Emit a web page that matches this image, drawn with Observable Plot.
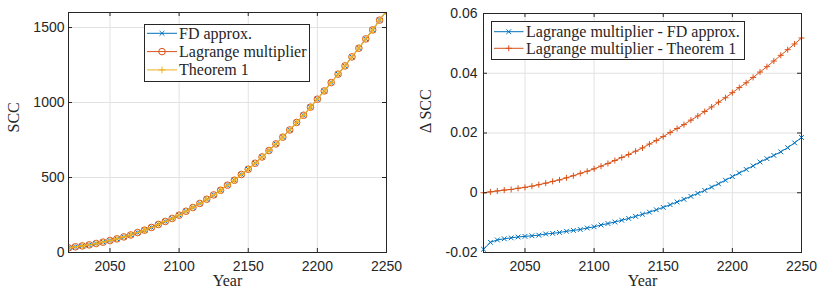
<!DOCTYPE html>
<html><head><meta charset="utf-8">
<script src="https://cdn.jsdelivr.net/npm/d3@7"></script>
<script src="https://cdn.jsdelivr.net/npm/@observablehq/plot@0.6"></script>
<style>
body{margin:0;background:#fff;}
#wrap{position:relative;width:818px;height:293px;display:flex;}
#overlay{position:absolute;left:0;top:0;}
</style></head><body>
<div id="wrap"><div id="left"></div><div id="right"></div><svg id="overlay" width="818" height="293"></svg></div>
<script>
const years = [2020,2025,2030,2035,2040,2045,2050,2055,2060,2065,2070,2075,2080,2085,2090,2095,2100,2105,2110,2115,2120,2125,2130,2135,2140,2145,2150,2155,2160,2165,2170,2175,2180,2185,2190,2195,2200,2205,2210,2215,2220,2225,2230,2235,2240,2245,2250];
const sccLagrange = [31,38,44,51,60,69,80,91,104,117,133,149,167,187,207,227,249,275,300,327,355,384,415,449,482,520,555,595,637,680,724,769,817,867,915,969,1022,1077,1133,1189,1244,1304,1362,1424,1484,1549,1611];
// The three SCC curves coincide at this scale
const sccFD = sccLagrange;
const sccTheorem = sccLagrange;
const dFD = [-0.0189,-0.0166,-0.0158,-0.0154,-0.0151,-0.0148,-0.0146,-0.0144,-0.0142,-0.0138,-0.0136,-0.0133,-0.0129,-0.0126,-0.0123,-0.0118,-0.0114,-0.0108,-0.0103,-0.0098,-0.0092,-0.0086,-0.0079,-0.0072,-0.0065,-0.0057,-0.0049,-0.0040,-0.0031,-0.0022,-0.0012,-0.0002,0.0008,0.0019,0.0030,0.0042,0.0054,0.0066,0.0078,0.0090,0.0103,0.0114,0.0125,0.0137,0.0151,0.0167,0.0185];
const dTheorem = [0.0000,0.0003,0.0006,0.0009,0.0011,0.0015,0.0018,0.0022,0.0027,0.0032,0.0038,0.0043,0.0050,0.0057,0.0065,0.0072,0.0080,0.0089,0.0098,0.0108,0.0118,0.0128,0.0139,0.0150,0.0163,0.0175,0.0188,0.0202,0.0215,0.0228,0.0243,0.0257,0.0272,0.0287,0.0303,0.0318,0.0335,0.0352,0.0368,0.0386,0.0404,0.0422,0.0441,0.0460,0.0479,0.0498,0.0518];
const xTicks = [2050,2100,2150,2200,2250];
const sccTicks = [0,500,1000,1500];
const dTicks = [-0.02,0,0.02,0.04,0.06];
const legendLeft = ["FD approx.","Lagrange multiplier","Theorem 1"];
const legendRight = ["Lagrange multiplier - FD approx.","Lagrange multiplier - Theorem 1"];

const BLUE="#0072BD", ORANGE="#D95319", YELLOW="#EDB120";
const FRAME="#262626", GRID="#e2e2e2";
const SERIF="Liberation Serif";
const SANS="Liberation Sans";

function inwardTicks(xt, yt, innerW, innerH) {
  return [
    Plot.ruleX(xt, {x: d=>d, insetTop: innerH-4, stroke: FRAME}),
    Plot.ruleX(xt, {x: d=>d, insetBottom: innerH-4, stroke: FRAME}),
    Plot.ruleY(yt, {y: d=>d, insetRight: innerW-4, stroke: FRAME}),
    Plot.ruleY(yt, {y: d=>d, insetLeft: innerW-4, stroke: FRAME})
  ];
}

// Left panel
{
  const W=409,H=293,mL=68,mR=23,mT=12,mB=41;
  const rows = years.map((x,i)=>({x, fd:sccFD[i], lm:sccLagrange[i], th:sccTheorem[i]}));
  const p = Plot.plot({
    width:W, height:H, marginLeft:mL, marginRight:mR, marginTop:mT, marginBottom:mB,
    x:{domain:[2020,2250]}, y:{domain:[0,1600]},
    style:{fontFamily:SANS, fontSize:"14px", color:FRAME, background:"white", overflow:"visible"},
    marks:[
      Plot.gridX(xTicks,{x:d=>d, stroke:GRID, strokeOpacity:1}),
      Plot.gridY(sccTicks,{y:d=>d, stroke:GRID, strokeOpacity:1}),
      Plot.line(rows,{x:"x",y:"fd",stroke:BLUE,strokeWidth:1,clip:true}),
      Plot.dot(rows,{x:"x",y:"fd",symbol:"times",r:2.3,stroke:BLUE,strokeWidth:1,clip:true}),
      Plot.line(rows,{x:"x",y:"lm",stroke:ORANGE,strokeWidth:1,clip:true}),
      Plot.dot(rows,{x:"x",y:"lm",symbol:"circle",r:3.3,stroke:ORANGE,fill:"none",strokeWidth:1,clip:true}),
      Plot.line(rows,{x:"x",y:"th",stroke:YELLOW,strokeWidth:1.2,clip:true}),
      Plot.dot(rows,{x:"x",y:"th",symbol:"plus",r:2.3,stroke:YELLOW,strokeWidth:1,clip:true}),
      Plot.axisX(xTicks,{tickSize:0,tickPadding:9,label:null,fill:FRAME,tickFormat:d=>String(d)}),
      Plot.axisY(sccTicks,{tickSize:0,tickPadding:4,label:null,fill:FRAME,tickFormat:d=>String(d)}),
      ...inwardTicks(xTicks,sccTicks,W-mL-mR,H-mT-mB),
      Plot.frame({stroke:FRAME}),
      Plot.text(["Year"],{text:d=>d,frameAnchor:"bottom",dy:33,fontFamily:SERIF,fontSize:16,fill:FRAME}),
      Plot.text(["SCC"],{text:d=>d,frameAnchor:"left",dx:-55,rotate:-90,fontFamily:SERIF,fontSize:16,fill:FRAME})
    ]
  });
  document.getElementById("left").appendChild(p);
}
// Right panel
{
  const W=409,H=293,mL=74,mR=17,mT=13,mB=41;
  const rows = years.map((x,i)=>({x, a:dFD[i], b:dTheorem[i]}));
  const p = Plot.plot({
    width:W, height:H, marginLeft:mL, marginRight:mR, marginTop:mT, marginBottom:mB,
    x:{domain:[2020,2250]}, y:{domain:[-0.02,0.06]},
    style:{fontFamily:SANS, fontSize:"14px", color:FRAME, background:"white", overflow:"visible"},
    marks:[
      Plot.gridX(xTicks,{x:d=>d, stroke:GRID, strokeOpacity:1}),
      Plot.gridY(dTicks,{y:d=>d, stroke:GRID, strokeOpacity:1}),
      Plot.line(rows,{x:"x",y:"a",stroke:BLUE,strokeWidth:1}),
      Plot.dot(rows,{x:"x",y:"a",symbol:"times",r:2.3,stroke:BLUE,strokeWidth:1}),
      Plot.line(rows,{x:"x",y:"b",stroke:ORANGE,strokeWidth:1}),
      Plot.dot(rows,{x:"x",y:"b",symbol:"plus",r:2.1,stroke:ORANGE,strokeWidth:1}),
      Plot.axisX(xTicks,{tickSize:0,tickPadding:9,label:null,fill:FRAME,tickFormat:d=>String(d)}),
      Plot.axisY(dTicks,{tickSize:0,tickPadding:6,label:null,fill:FRAME,tickFormat:d=>d===0?"0":d.toFixed(2)}),
      ...inwardTicks(xTicks,dTicks,W-mL-mR,H-mT-mB),
      Plot.frame({stroke:FRAME}),
      Plot.text(["Year"],{text:d=>d,frameAnchor:"bottom",dy:33,fontFamily:SERIF,fontSize:16,fill:FRAME}),
      Plot.text(["\u0394 SCC"],{text:d=>d,frameAnchor:"left",dx:-58,rotate:-90,fontFamily:SERIF,fontSize:16,fill:FRAME})
    ]
  });
  document.getElementById("right").appendChild(p);
}

// Legends
const ov = d3.select("#overlay");
function legend(box, rows, entries) {
  const g = ov.append("g");
  g.append("rect").attr("x",box.x).attr("y",box.y).attr("width",box.w).attr("height",box.h)
    .attr("fill","white").attr("stroke",FRAME).attr("stroke-width",1);
  entries.forEach((e,i)=>{
    const y = rows.y0 + i*rows.dy;
    g.append("line").attr("x1",rows.lx1).attr("x2",rows.lx2).attr("y1",y).attr("y2",y)
      .attr("stroke",e.color).attr("stroke-width",1);
    e.symbols.forEach(s=>{
      g.append("path").attr("d",d3.symbol(s.type, Math.PI*s.r*s.r)())
        .attr("transform",`translate(${(rows.lx1+rows.lx2)/2},${y})`)
        .attr("fill","none").attr("stroke",s.color).attr("stroke-width",1);
    });
    g.append("text").attr("x",rows.tx).attr("y",y).attr("dy","0.33em")
      .style("font-family",SERIF).style("font-size","16px").attr("fill",FRAME).text(e.label);
  });
}
legend({x:144.5,y:24.5,w:165,h:57},{y0:33.3,dy:18.3,lx1:147,lx2:177,tx:179},[
  {label:legendLeft[0],color:BLUE,symbols:[{type:d3.symbolTimes,r:2.3,color:BLUE}]},
  {label:legendLeft[1],color:ORANGE,symbols:[{type:d3.symbolCircle,r:3.3,color:ORANGE}]},
  {label:legendLeft[2],color:YELLOW,symbols:[{type:d3.symbolPlus,r:2.3,color:YELLOW}]}
]);
legend({x:491.5,y:21.5,w:253,h:38},{y0:31.7,dy:16.6,lx1:494,lx2:523.5,tx:526},[
  {label:legendRight[0],color:BLUE,symbols:[{type:d3.symbolTimes,r:2.3,color:BLUE}]},
  {label:legendRight[1],color:ORANGE,symbols:[{type:d3.symbolPlus,r:2.1,color:ORANGE}]}
]);
</script>
</body></html>
